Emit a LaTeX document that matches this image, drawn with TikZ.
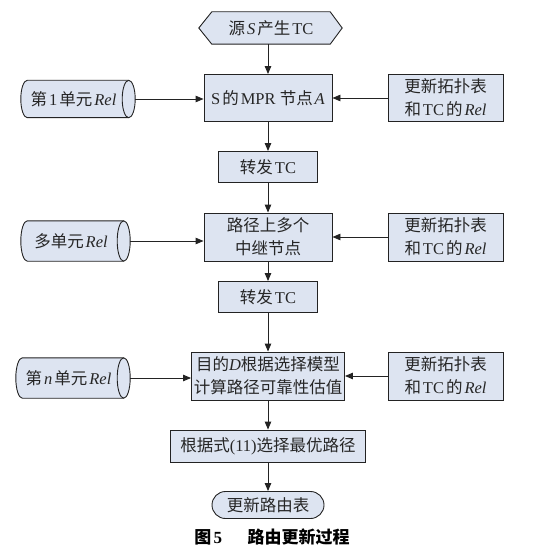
\documentclass[tikz,border=0pt]{standalone}
\usepackage{fontspec}
\setmainfont{Liberation Serif}
\newfontfamily\cjkf{Noto Sans CJK SC}
\newcommand\zh[1]{{\cjkf #1}}
\newcommand\gp{\hspace{0.12em}}
\usetikzlibrary{arrows.meta,calc,backgrounds}
\definecolor{boxfill}{RGB}{221,228,241}
\definecolor{linecol}{RGB}{35,35,35}
\tikzset{
  base/.style={font=\fontsize{16.5}{23}\selectfont, align=center, inner sep=0pt, text=black!85},
  procbox/.style={base, draw=linecol, fill=boxfill, line width=0.9pt},
  plain/.style={base},
  conn/.style={draw=linecol, line width=0.9pt, -{Triangle[length=8pt,width=6.5pt]}},
  shapeline/.style={draw=linecol, fill=boxfill, line width=0.9pt},
}
\newcommand\cylshape[2]{%
  \path[shapeline] let \p1=(#1.north west), \p2=(#1.south east), \n1={(\y1-\y2)/2} in
    (\x1+#2,\y1) -- (\x2-#2,\y1) arc[start angle=90,end angle=-90,x radius=#2,y radius=\n1]
    -- (\x1+#2,\y2) arc[start angle=270,end angle=90,x radius=#2,y radius=\n1] -- cycle;
  \path[draw=linecol,line width=0.9pt] let \p1=(#1.north west), \p2=(#1.south east), \n1={(\y1-\y2)/2} in
    (\x2-#2,\y1) arc[start angle=90,end angle=270,x radius=#2,y radius=\n1];
}
\begin{document}
\begin{tikzpicture}[x=1pt,y=1pt]
\useasboundingbox (0,0) rectangle (536,-556);
% centre column
\node[plain, minimum width=118pt, minimum height=32pt] (src) at (271,-28) {\zh{源}\gp\textit{S}\gp\zh{产生}\gp TC};
\node[procbox, minimum width=128pt, minimum height=47pt] (A) at (268,-98) {S\gp\zh{的}\gp MPR \zh{节点}\gp\textit{A}};
\node[procbox, minimum width=99pt, minimum height=31pt] (tc1) at (268,-167) {\zh{转发}\gp TC};
\node[procbox, minimum width=128pt, minimum height=48pt] (B) at (268,-237) {\zh{路径上多个}\\\zh{中继节点}};
\node[procbox, minimum width=99pt, minimum height=31pt] (tc2) at (268,-297) {\zh{转发}\gp TC};
\node[procbox, minimum width=153pt, minimum height=48pt] (D) at (268,-376) {\zh{目的}\textit{D}\zh{根据选择模型}\\\zh{计算路径可靠性估值}};
\node[procbox, minimum width=195pt, minimum height=32pt] (E) at (268,-446) {\zh{根据式}(11)\zh{选择最优路径}};
\node[procbox, rounded corners=13.5pt, minimum width=112pt, minimum height=27pt] (fin) at (268,-505) {\zh{更新路由表}};
\node[font=\fontsize{17}{20}\selectfont\bfseries, inner sep=0pt] (cap) at (272,-537) {\zh{图}\gp 5\hspace{1.5em}\zh{路由更新过程}};
% left cylinders
\node[plain, minimum width=114pt, minimum height=37pt] (L1) at (78,-99) {\zh{第}\gp 1\gp\zh{单元}\gp\textit{Rel}\hspace{9pt}};
\node[plain, minimum width=109pt, minimum height=40pt] (L2) at (75.5,-241) {\zh{多单元}\gp\textit{Rel}\hspace{9pt}};
\node[plain, minimum width=114pt, minimum height=40pt] (L3) at (73,-378) {\zh{第}\gp\textit{n}\gp\zh{单元}\gp\textit{Rel}\hspace{9pt}};
% right boxes
\node[procbox, minimum width=115pt, minimum height=47pt] (R1) at (445.5,-98) {\zh{更新拓扑表}\\\zh{和}\gp TC\gp\zh{的}\gp\textit{Rel}};
\node[procbox, minimum width=115pt, minimum height=48pt] (R2) at (445.5,-237) {\zh{更新拓扑表}\\\zh{和}\gp TC\gp\zh{的}\gp\textit{Rel}};
\node[procbox, minimum width=115pt, minimum height=48pt] (R3) at (445.5,-376) {\zh{更新拓扑表}\\\zh{和}\gp TC\gp\zh{的}\gp\textit{Rel}};
% background shapes
\begin{scope}[on background layer]
  \path[shapeline] (src.north west) -- (src.north east) -- ([xshift=12pt]src.east) -- (src.south east)
    -- (src.south west) -- ([xshift=-13pt]src.west) -- cycle;
  \cylshape{L1}{6.5pt}
  \cylshape{L2}{6.5pt}
  \cylshape{L3}{6.5pt}
\end{scope}
% connectors
\draw[conn] (src.south -| A.north) -- (A.north);
\draw[conn] (A) -- (tc1);
\draw[conn] (tc1) -- (B);
\draw[conn] (B) -- (tc2);
\draw[conn] (tc2) -- (D);
\draw[conn] (D) -- (E);
\draw[conn] (E) -- (fin);
\draw[conn] (L1.east) -- (L1.east -| A.west);
\draw[conn] (L2.east) -- (L2.east -| B.west);
\draw[conn] (L3.east) -- (L3.east -| D.west);
\draw[conn] (R1.west) -- (R1.west -| A.east);
\draw[conn] (R2.west) -- (R2.west -| B.east);
\draw[conn] (R3.west) -- (R3.west -| D.east);
\end{tikzpicture}
\end{document}
